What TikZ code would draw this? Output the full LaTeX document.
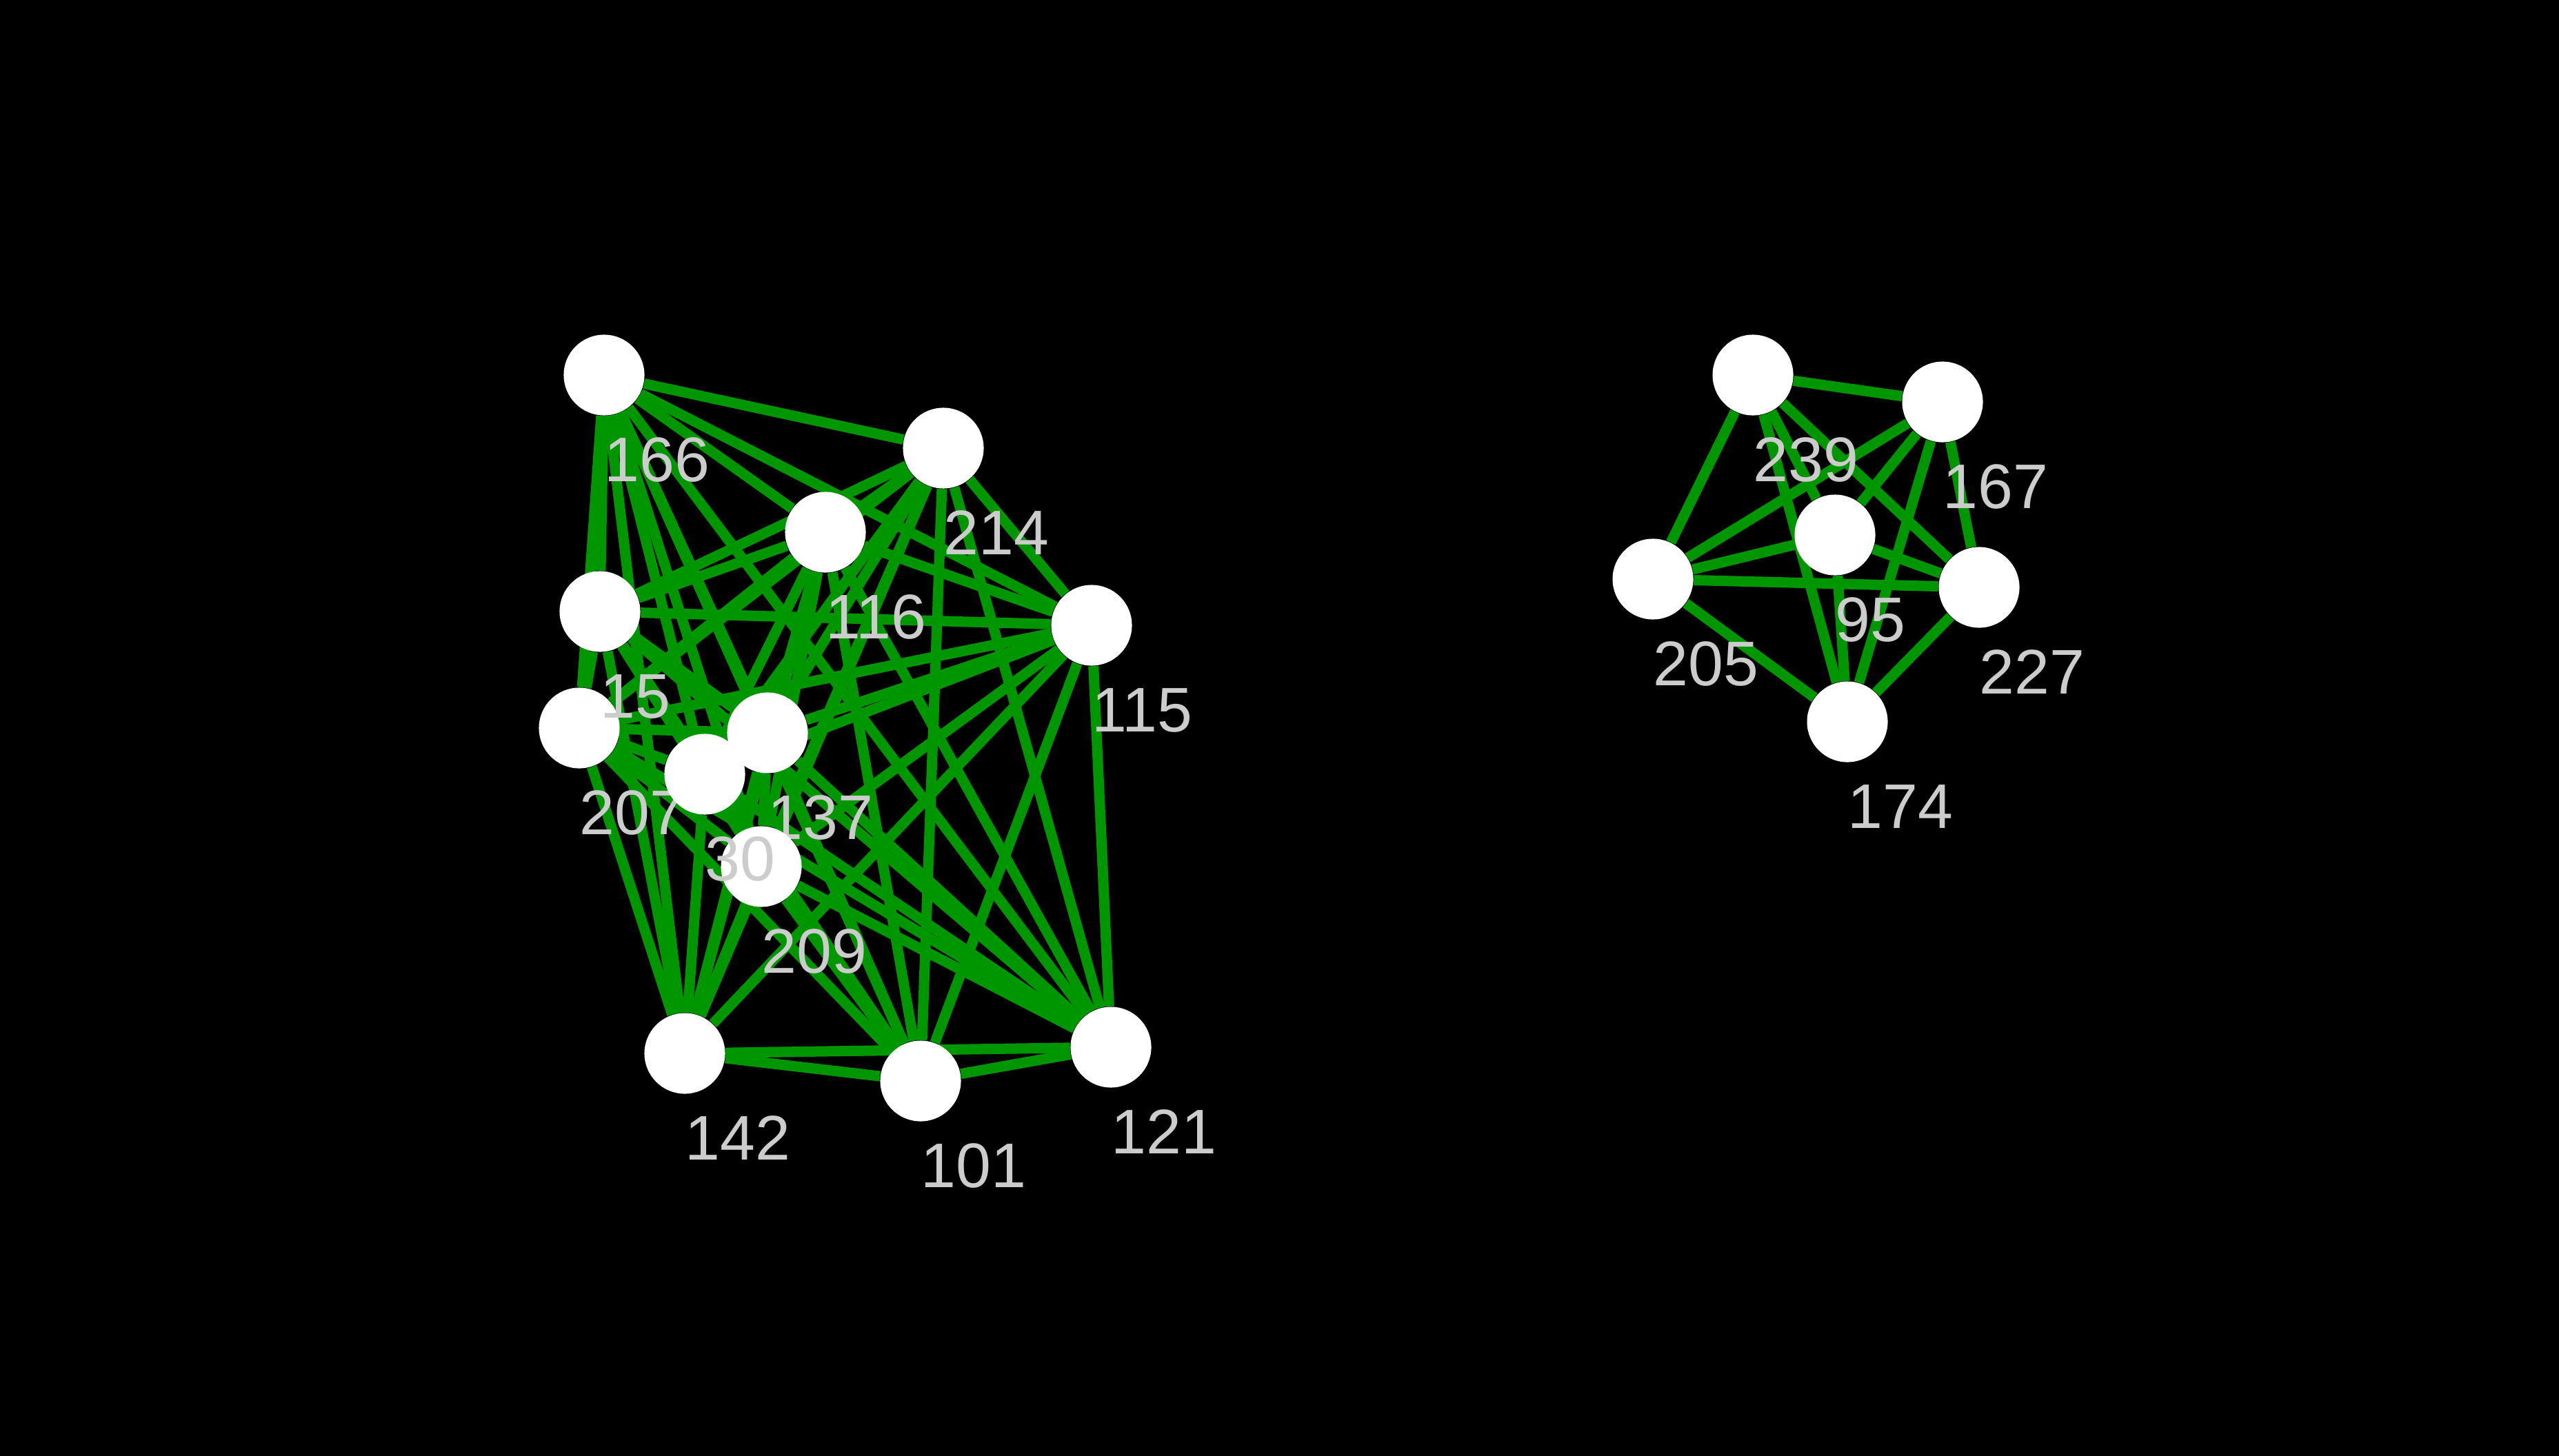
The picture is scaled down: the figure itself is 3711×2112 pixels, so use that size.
\documentclass[tikz,border=0pt]{standalone}
\usepackage{fontspec}
\setmainfont{Liberation Sans}
\usepackage{xcolor}
\usepackage{tikz}
\usetikzlibrary{graphs,graphs.standard}
\definecolor{edgegreen}{RGB}{0,150,0}
\definecolor{lblgray}{RGB}{204,204,204}
\pgfdeclarelayer{edgelayer}
\pgfsetlayers{edgelayer,main}

\begin{document}
\begin{tikzpicture}
                [x=0.01cm, y=-0.01cm,
                vtx/.style = {circle, minimum size = 1.17cm, inner sep=0pt, fill=white},
                lbl/.style = {anchor=base west, inner sep=0pt, text=lblgray, font=\fontsize{26}{30}\selectfont},
                link/.style = {draw=edgegreen, line width=0.15cm}]
                \useasboundingbox (0,0) rectangle (3711,2112);
                % Left cluster: vertices with their numbers
                \node[vtx] (v166) at (876,544) {};
                \node[lbl] (t166) at (876,698) {166};
                \node[vtx] (v214) at (1368,650) {};
                \node[lbl] (t214) at (1368,804) {214};
                \node[vtx] (v116) at (1197,772) {};
                \node[lbl] (t116) at (1197,926) {116};
                \node[vtx] (v115) at (1583,907) {};
                \node[lbl] (t115) at (1583,1061) {115};
                \node[vtx] (v207) at (840,1056) {};
                \node[lbl] (t207) at (840,1210) {207};
                \node[vtx] (v15) at (870,887) {};
                \node[lbl] (t15) at (870,1041) {15};
                \node[vtx] (v137) at (1113,1063) {};
                \node[lbl] (t137) at (1113,1217) {137};
                \node[vtx] (v209) at (1104,1257) {};
                \node[lbl] (t209) at (1104,1411) {209};
                \node[vtx] (v142) at (993,1528) {};
                \node[lbl] (t142) at (993,1682) {142};
                \node[vtx] (v101) at (1335,1568) {};
                \node[lbl] (t101) at (1335,1722) {101};
                \node[vtx] (v121) at (1611,1519) {};
                \node[lbl] (t121) at (1611,1673) {121};
                \node[vtx] (v30) at (1022,1123) {};
                \node[lbl] (t30) at (1022,1277) {30};
                % Right cluster
                \node[vtx] (v239) at (2542,544) {};
                \node[lbl] (t239) at (2542,698) {239};
                \node[vtx] (v167) at (2817,583) {};
                \node[lbl] (t167) at (2817,737) {167};
                \node[vtx] (v95) at (2661,776) {};
                \node[lbl] (t95) at (2661,930) {95};
                \node[vtx] (v205) at (2397,840) {};
                \node[lbl] (t205) at (2397,994) {205};
                \node[vtx] (v227) at (2870,852) {};
                \node[lbl] (t227) at (2870,1006) {227};
                \node[vtx] (v174) at (2679,1047) {};
                \node[lbl] (t174) at (2679,1201) {174};
                % Lines: every pair inside a cluster, kept behind the vertices
                \begin{pgfonlayer}{edgelayer}
                \fill[black] (0,0) rectangle (3711,2112);
                \graph[use existing nodes, edges={link}] {
                    subgraph K_n [V={v166,v214,v116,v15,v115,v207,v137,v30,v209,v142,v101,v121}];
                    subgraph K_n [V={v239,v167,v95,v205,v227,v174}];
                };
                \end{pgfonlayer}
            \end{tikzpicture}
\end{document}
